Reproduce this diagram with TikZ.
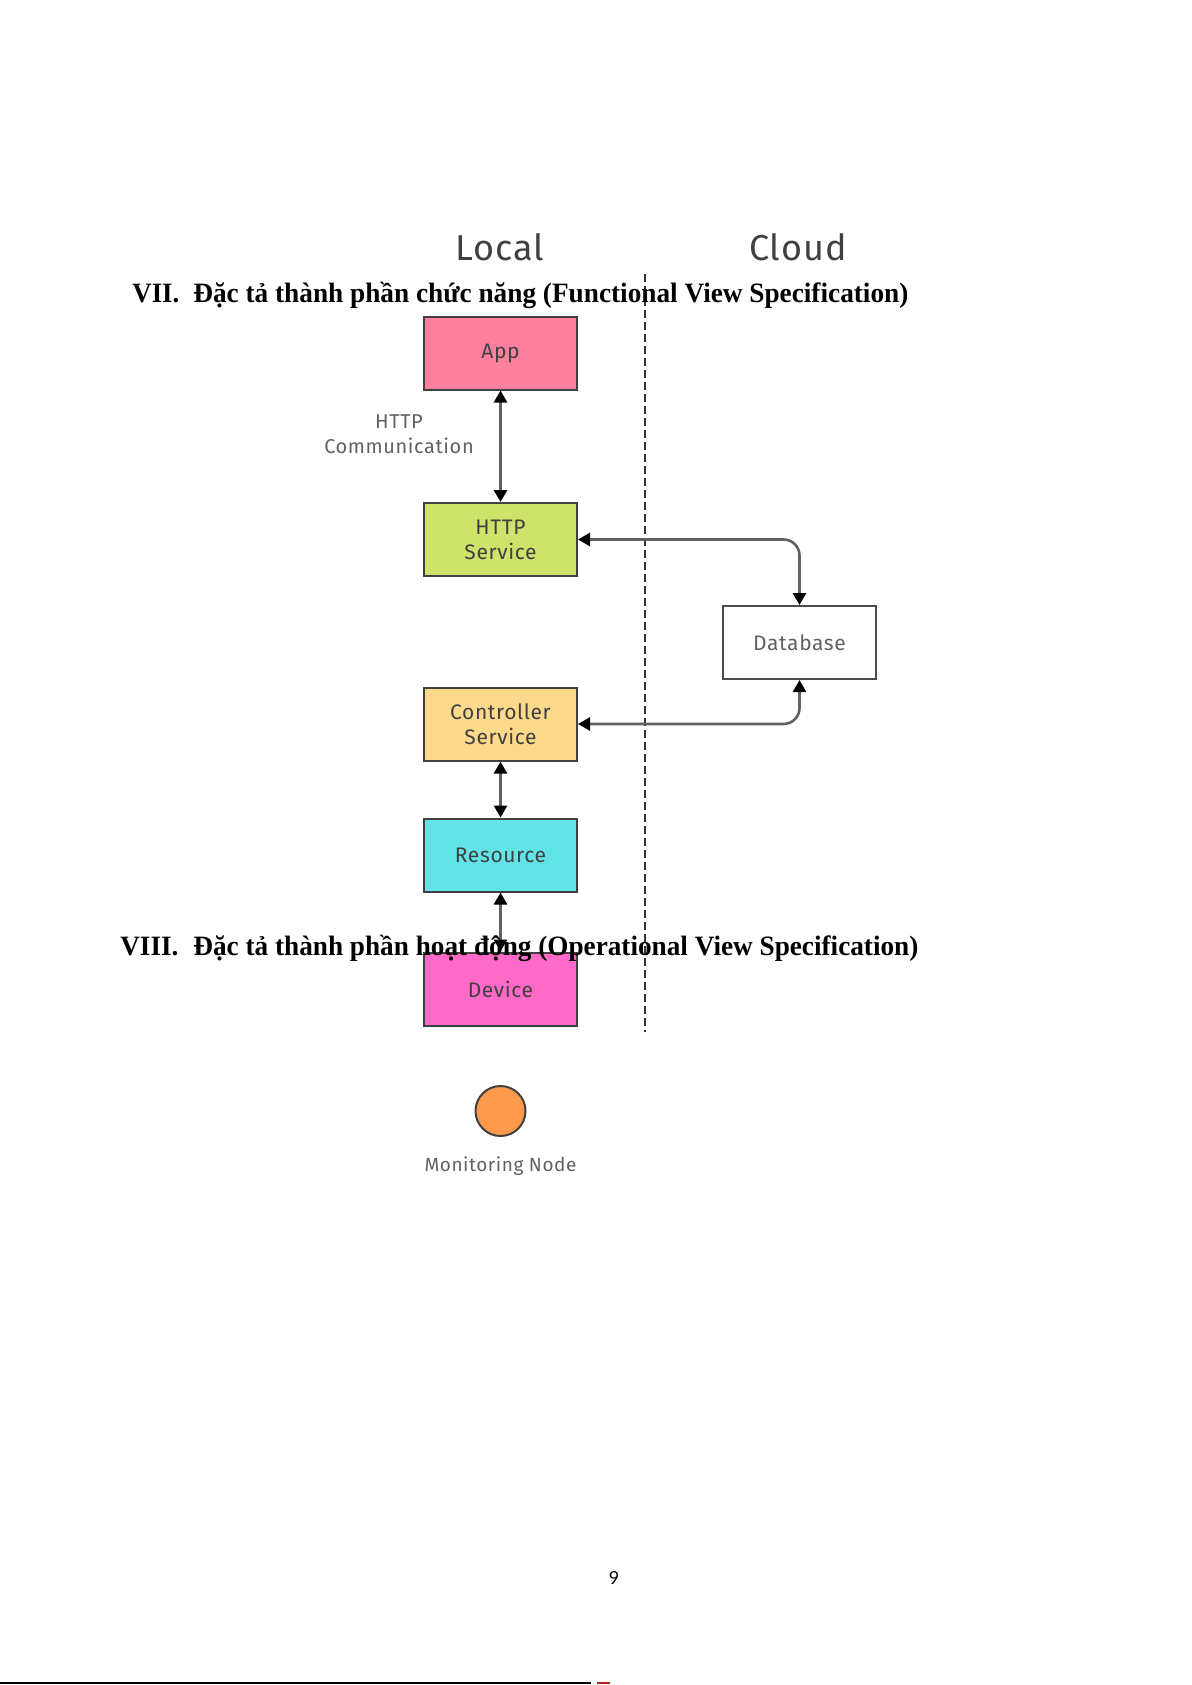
\documentclass[tikz,border=0pt]{standalone}
\usepackage{graphicx}
\usepackage{fontspec}
\setmainfont{Liberation Serif}
\newfontfamily\dfont[LetterSpace=3]{Fira Sans}
\newfontfamily\pnfont{Lato}
\usetikzlibrary{arrows.meta}
\definecolor{cApp}{HTML}{FF809E}
\definecolor{cHttp}{HTML}{CDE36A}
\definecolor{cCtrl}{HTML}{FDD98B}
\definecolor{cRes}{HTML}{62E3E6}
\definecolor{cDev}{HTML}{FF6AC8}
\definecolor{cMon}{HTML}{FF9A4D}
\definecolor{cRed}{HTML}{B22222}
\tikzset{
  box/.style={draw=black!75, line width=1pt, minimum width=76.5pt, minimum height=36.5pt,
    inner sep=0pt, align=center, text=black!75, font=\dfont\fontsize{10.5}{12.5}\selectfont},
  dbbox/.style={box, fill=white, draw=black!70, text=black!62},
  conn/.style={draw=black!62, line width=1.3pt,
    {Triangle[length=6pt,width=6.5pt,color=black]}-{Triangle[length=6pt,width=6.5pt,color=black]}},
  lbl/.style={align=center, text=black!62, inner sep=0pt, font=\dfont\fontsize{10}{12.5}\selectfont},
  colhdr/.style={text=black!75, inner sep=0pt, font=\dfont\fontsize{18}{20}\selectfont},
  headnum/.style={anchor=base west, inner sep=0pt, font=\bfseries\fontsize{14}{17}\selectfont},
  divider/.style={draw=black!80, line width=0.8pt, dash pattern=on 4pt off 2pt},
}
\begin{document}
\begin{tikzpicture}[x=0.5pt,y=-0.5pt]
\useasboundingbox (0,0) rectangle (1191,1685);

% column headers
\node[colhdr] (local) at (500,247) {Local};
\node[colhdr] (cloud) at (798,247) {Cloud};

% divider
\coordinate (dtop) at (645,274);
\coordinate (dbot) at (645,1032);
\draw[divider] (dtop) -- (dbot);

% boxes
\node[box, fill=cApp]  (app)  at (500.5,353)   {App};
\node[box, fill=cHttp] (http) at (500.5,539.5) {HTTP\\Service};
\node[box, fill=cCtrl] (ctrl) at (500.5,724)   {Controller\\Service};
\node[box, fill=cRes]  (res)  at (500.5,855)   {Resource};
\node[box, fill=cDev]  (dev)  at (500.5,989)   {Device};
\node[dbbox] (db) at (799.5,642.5) {Database};

% label
\node[lbl] (hc) at (399,434) {HTTP\\Communication};

% connectors
\draw[conn] (app.south) -- (http.north);
\draw[conn] (ctrl.south) -- (res.north);
\draw[conn] (res.south) -- (dev.north);
\draw[conn, rounded corners=8pt] (http.east) -| (db.north);
\draw[conn, rounded corners=8pt] (ctrl.east) -| (db.south);

% monitoring node
\node[circle, draw=black!75, line width=1pt, fill=cMon, minimum size=25pt, inner sep=0pt] (mon) at (500.5,1111) {};
\node[lbl, font=\dfont\fontsize{9.5}{11}\selectfont] (monlbl) at (500.5,1166) {Monitoring Node};

% headings
\node[headnum] (h7n) at (132,302) {\resizebox{23.5pt}{\height}{VII.}};
\node[headnum] (h7t) at (193,302) {\resizebox{357.5pt}{\height}{Đặc tả thành phần chức năng (Functional View Specification)}};
\node[headnum] (h8n) at (120,955) {\resizebox{29pt}{\height}{VIII.}};
\node[headnum] (h8t) at (193,955) {\resizebox{362.5pt}{\height}{Đặc tả thành phần hoạt động (Operational View Specification)}};

% page number
\node[anchor=base, inner sep=0pt, font=\pnfont\fontsize{9}{11}\selectfont] (pn) at (614,1584) {9};

% footer rule
\coordinate (fl0) at (0,1683);
\coordinate (fl1) at (591,1683);
\coordinate (fr0) at (597,1683);
\coordinate (fr1) at (610,1683);
\draw[line width=1pt] (fl0) -- (fl1);
\draw[line width=1pt, cRed] (fr0) -- (fr1);
\end{tikzpicture}
\end{document}
